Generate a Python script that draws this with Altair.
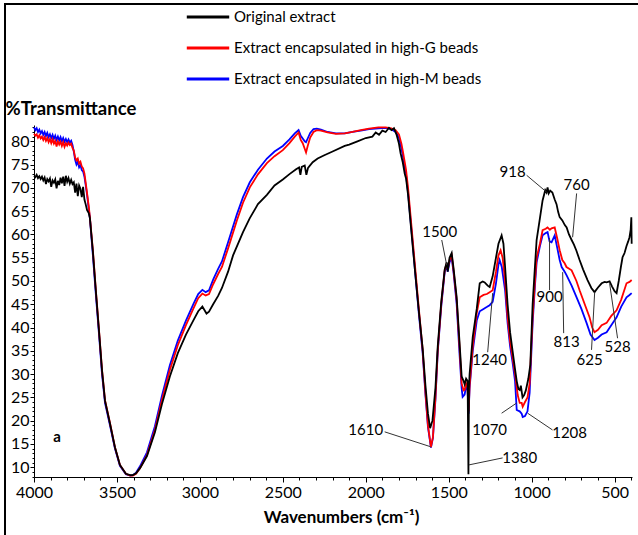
import altair as alt
import pandas as pd

FONT = "Lato"

series_names = ["Original extract",
                "Extract encapsulated in high-G beads",
                "Extract encapsulated in high-M beads"]
series_colors = ["#000000", "#ff0000", "#0000ff"]

black_points = [
    (4000, 72.6), (3992, 72.3), (3984, 72.8), (3976, 72.1), (3968, 72.5), (3960, 71.9), (3952, 72.4),
    (3944, 71.6), (3936, 72.2), (3928, 70.8), (3920, 71.9), (3912, 71.4), (3904, 72.0), (3896, 70.2),
    (3888, 71.6), (3880, 71.1), (3872, 71.8), (3864, 69.9), (3856, 71.5), (3848, 70.6), (3840, 72.2),
    (3832, 71.0), (3824, 72.4), (3816, 70.4), (3808, 72.6), (3800, 71.3), (3792, 72.1), (3784, 70.9),
    (3776, 71.7), (3768, 70.8), (3760, 71.2), (3752, 69.0), (3744, 70.9), (3736, 68.2), (3728, 70.5),
    (3720, 69.8), (3712, 68.0), (3704, 70.2), (3696, 67.5), (3688, 66.4), (3680, 65.2), (3670, 64.6),
    (3663, 63.5), (3645, 56.3), (3627, 47.8), (3608, 39.2), (3590, 30.8), (3572, 24.3), (3542, 19.4),
    (3512, 14.3), (3482, 10.5), (3446, 8.6), (3420, 8.3), (3404, 8.3), (3385, 8.7), (3361, 9.8),
    (3319, 12.4), (3271, 17.5), (3229, 23.5), (3181, 29.5), (3133, 34.5), (3084, 38.5), (3040, 41.5),
    (3010, 43.5), (2985, 44.5), (2960, 43.0), (2945, 43.4), (2920, 45.0), (2890, 46.8), (2867, 48.5),
    (2830, 52.0), (2800, 55.5), (2740, 60.5), (2699, 63.5), (2650, 66.5), (2596, 68.5), (2550, 70.5),
    (2500, 71.8), (2458, 73.0), (2420, 74.0), (2402, 74.4), (2394, 72.8), (2386, 74.5), (2368, 74.8),
    (2358, 72.8), (2348, 74.3), (2320, 75.5), (2290, 76.3), (2250, 77.0), (2200, 77.8), (2127, 79.0),
    (2100, 79.3), (2050, 80.0), (2000, 80.7), (1960, 81.0), (1940, 81.9), (1920, 81.4), (1900, 82.3),
    (1880, 82.0), (1860, 82.9), (1845, 82.4), (1830, 82.8), (1815, 81.5), (1800, 79.5), (1790, 77.4),
    (1777, 75.5), (1765, 73.0), (1757, 72.0), (1745, 68.5), (1735, 64.5), (1717, 57.5), (1700, 51.0),
    (1680, 43.5), (1657, 35.5), (1640, 27.5), (1625, 21.5), (1612, 18.4), (1598, 20.0), (1580, 27.0),
    (1566, 36.0), (1545, 45.5), (1524, 52.5), (1512, 54.0), (1506, 52.0), (1495, 55.0), (1482, 56.0),
    (1470, 52.5), (1452, 46.5), (1435, 37.0), (1422, 29.5), (1410, 28.5), (1404, 27.8), (1395, 29.0),
    (1386, 28.5), (1381, 8.5), (1378, 27.0), (1374, 30.0), (1355, 38.0), (1331, 44.0), (1313, 49.5),
    (1295, 49.9), (1283, 49.7), (1265, 49.0), (1253, 48.7), (1235, 51.0), (1215, 55.0), (1200, 58.0),
    (1181, 59.8), (1170, 58.0), (1160, 53.0), (1145, 45.0), (1130, 39.0), (1115, 35.0), (1100, 31.0),
    (1090, 28.5), (1080, 26.8), (1072, 26.6), (1065, 27.5), (1055, 25.0), (1045, 25.5), (1035, 26.5),
    (1020, 29.0), (1008, 32.0), (994, 45.0), (982, 52.0), (970, 58.8), (950, 63.5), (934, 67.3),
    (918, 69.5), (910, 69.0), (904, 70.1), (897, 68.8), (888, 69.4), (875, 69.0), (861, 67.5),
    (850, 66.5), (840, 64.8), (831, 63.7), (815, 63.0), (800, 62.0), (789, 61.5), (775, 60.0),
    (759, 58.8), (745, 57.8), (730, 56.5), (711, 54.5), (690, 52.5), (663, 50.2), (640, 48.5),
    (621, 47.6), (600, 48.6), (578, 49.5), (560, 49.8), (548, 49.7), (530, 49.9), (515, 48.8),
    (500, 47.8), (488, 47.4), (475, 50.0), (462, 53.0), (452, 55.1), (440, 56.0), (428, 57.5),
    (418, 58.5), (410, 59.4), (403, 61.0), (399, 63.7), (397, 58.0),
]

red_points = [
    (4000, 81.6), (3992, 81.2), (3984, 81.5), (3976, 80.8), (3968, 81.3), (3960, 80.6), (3952, 81.0),
    (3944, 80.3), (3936, 80.9), (3928, 80.1), (3920, 80.7), (3912, 79.8), (3904, 80.5), (3896, 79.6),
    (3888, 80.4), (3880, 79.5), (3872, 80.1), (3864, 78.9), (3856, 80.0), (3848, 79.3), (3840, 79.9),
    (3832, 79.0), (3824, 79.8), (3816, 78.8), (3808, 79.6), (3800, 79.1), (3792, 79.7), (3784, 79.2),
    (3776, 79.5), (3768, 78.6), (3760, 78.0), (3752, 76.5), (3744, 75.9), (3736, 76.3), (3728, 75.2),
    (3720, 75.6), (3712, 74.6), (3704, 74.2), (3696, 73.1), (3688, 71.0), (3680, 68.8), (3670, 66.0),
    (3663, 63.7), (3645, 56.6), (3627, 48.0), (3608, 39.4), (3590, 30.9), (3572, 24.4), (3542, 19.5),
    (3512, 14.3), (3482, 10.5), (3446, 8.6), (3420, 8.2), (3404, 8.2), (3385, 8.6), (3361, 9.8),
    (3319, 12.6), (3271, 18.0), (3229, 24.4), (3181, 30.9), (3133, 36.2), (3084, 40.5), (3040, 44.0),
    (3010, 46.3), (2985, 47.3), (2965, 46.9), (2945, 47.2), (2920, 49.3), (2890, 51.5), (2867, 53.0),
    (2830, 57.0), (2777, 63.0), (2740, 66.8), (2699, 70.1), (2650, 72.9), (2596, 75.3), (2550, 76.8),
    (2500, 78.1), (2460, 79.6), (2428, 81.0), (2405, 81.9), (2392, 80.3), (2380, 79.6), (2368, 78.4),
    (2360, 77.6), (2350, 79.0), (2335, 80.8), (2315, 82.0), (2295, 82.4), (2270, 82.3), (2230, 81.9),
    (2180, 81.6), (2127, 81.7), (2080, 82.0), (2030, 82.4), (1980, 82.7), (1924, 83.0), (1880, 83.0),
    (1846, 82.8), (1820, 82.4), (1800, 81.5), (1785, 79.5), (1777, 78.0), (1765, 75.5), (1757, 73.8),
    (1745, 70.0), (1735, 66.0), (1717, 58.8), (1700, 52.0), (1680, 44.0), (1657, 35.2), (1640, 26.0),
    (1625, 19.0), (1607, 14.3), (1595, 16.5), (1580, 25.0), (1566, 35.2), (1545, 45.0), (1524, 52.3),
    (1512, 53.8), (1506, 52.5), (1495, 54.5), (1482, 55.5), (1470, 52.0), (1452, 45.9), (1435, 36.0),
    (1422, 28.0), (1410, 26.5), (1404, 26.6), (1395, 28.0), (1386, 27.0), (1380, 22.0), (1374, 27.5),
    (1355, 36.0), (1331, 43.1), (1313, 46.5), (1290, 47.0), (1270, 47.2), (1253, 47.6), (1235, 48.0),
    (1215, 52.0), (1200, 55.5), (1187, 56.6), (1175, 55.0), (1160, 50.0), (1145, 42.2), (1130, 37.0),
    (1115, 33.6), (1100, 30.0), (1084, 25.5), (1072, 23.8), (1060, 23.8), (1054, 23.0), (1040, 24.0),
    (1025, 25.0), (1012, 28.0), (994, 42.2), (980, 50.0), (970, 55.0), (950, 58.0), (934, 60.9),
    (915, 61.2), (904, 61.5), (890, 61.0), (880, 61.3), (861, 61.5), (845, 59.0), (831, 56.6),
    (815, 54.5), (801, 53.8), (790, 53.0), (759, 52.3), (730, 50.0), (711, 48.0), (680, 45.0),
    (651, 42.2), (635, 40.0), (621, 39.0), (600, 39.5), (578, 40.5), (548, 41.0), (520, 42.5),
    (488, 43.7), (460, 46.0), (428, 49.5), (410, 49.8), (397, 50.2),
]

blue_points = [
    (4000, 83.0), (3992, 82.4), (3984, 82.8), (3976, 82.0), (3968, 82.5), (3960, 81.7), (3952, 82.2),
    (3944, 81.4), (3936, 82.0), (3928, 81.1), (3920, 81.8), (3912, 80.9), (3904, 81.5), (3896, 80.7),
    (3888, 81.4), (3880, 80.5), (3872, 81.2), (3864, 80.3), (3856, 81.0), (3848, 80.2), (3840, 80.9),
    (3832, 80.0), (3824, 80.7), (3816, 79.9), (3808, 80.5), (3800, 79.8), (3792, 80.4), (3784, 79.7),
    (3776, 80.1), (3768, 79.2), (3760, 77.8), (3752, 76.0), (3744, 75.0), (3736, 75.6), (3728, 74.4),
    (3720, 74.9), (3712, 73.8), (3704, 73.5), (3696, 72.4), (3688, 70.5), (3680, 68.5), (3670, 65.5),
    (3663, 63.5), (3645, 55.5), (3627, 47.0), (3608, 38.5), (3590, 30.0), (3572, 23.8), (3542, 19.0),
    (3512, 14.0), (3482, 10.3), (3446, 8.5), (3420, 8.2), (3404, 8.3), (3385, 8.8), (3361, 10.2),
    (3319, 13.2), (3271, 18.8), (3229, 25.3), (3181, 31.9), (3133, 37.2), (3084, 41.5), (3040, 45.0),
    (3010, 47.2), (2985, 48.1), (2965, 47.6), (2945, 48.0), (2920, 50.3), (2890, 52.6), (2867, 54.2),
    (2830, 58.3), (2777, 64.3), (2740, 68.0), (2699, 71.2), (2650, 73.9), (2596, 76.3), (2550, 77.8),
    (2500, 79.0), (2460, 80.4), (2428, 81.7), (2405, 82.4), (2392, 81.2), (2380, 80.6), (2368, 80.0),
    (2360, 79.8), (2350, 80.6), (2335, 81.8), (2315, 82.6), (2295, 82.7), (2270, 82.5), (2230, 82.0),
    (2180, 81.7), (2127, 81.7), (2080, 82.0), (2030, 82.3), (1980, 82.6), (1924, 82.8), (1880, 82.9),
    (1846, 82.6), (1820, 82.0), (1800, 80.8), (1785, 78.5), (1777, 77.0), (1765, 74.5), (1757, 72.8),
    (1745, 69.0), (1735, 65.0), (1717, 58.0), (1700, 51.0), (1680, 43.0), (1657, 34.5), (1640, 25.5),
    (1625, 18.6), (1607, 14.2), (1595, 16.3), (1580, 24.5), (1566, 34.8), (1545, 44.5), (1524, 52.0),
    (1512, 53.5), (1506, 52.0), (1495, 54.0), (1482, 55.0), (1470, 51.5), (1452, 45.0), (1435, 34.5),
    (1422, 27.0), (1416, 25.1), (1404, 25.6), (1395, 27.5), (1386, 26.5), (1380, 21.5), (1374, 27.0),
    (1355, 35.0), (1331, 41.5), (1313, 43.5), (1290, 44.0), (1271, 44.4), (1253, 44.8), (1235, 45.5),
    (1215, 49.5), (1200, 53.5), (1193, 54.5), (1180, 53.0), (1160, 48.0), (1145, 41.0), (1130, 36.0),
    (1115, 32.5), (1100, 28.5), (1090, 22.3), (1072, 22.0), (1060, 21.5), (1054, 20.8), (1040, 21.0),
    (1025, 22.0), (1012, 26.0), (994, 41.0), (980, 49.0), (970, 54.0), (950, 57.5), (934, 59.8),
    (915, 60.3), (904, 60.5), (892, 58.5), (880, 58.3), (861, 59.8), (845, 57.0), (831, 54.5),
    (819, 53.0), (801, 52.0), (789, 51.2), (759, 49.0), (729, 46.5), (700, 44.0), (669, 41.0),
    (645, 38.5), (621, 37.3), (600, 37.8), (578, 38.5), (548, 39.0), (520, 40.5), (488, 42.2),
    (460, 44.5), (428, 46.5), (410, 47.0), (397, 47.4),
]

# peak annotations: label, text position, leader line start/end
ann_labels = ["918", "760", "1500", "900", "1240", "813", "625", "528", "1610", "1070", "1208", "1380"]
ann_text_wn = [1115, 729, 1554, 892, 1253, 789, 651, 482, 2000, 1253, 771, 1072]
ann_text_t = [73.3, 70.6, 60.5, 46.5, 33.0, 36.9, 33.0, 35.8, 18.0, 18.0, 17.3, 12.0]
ann_line_wn1 = [1030, 729, 1542, 892, 1265, 807, 639, 482, 1886, 1181, 874, 1175]
ann_line_t1 = [72.7, 68.8, 58.8, 48.0, 34.7, 38.8, 35.2, 37.7, 17.6, 21.6, 18.0, 12.0]
ann_line_wn2 = [910, 753, 1512, 892, 1235, 813, 620, 530, 1609, 1090, 1024, 1378]
ann_line_t2 = [69.1, 59.4, 53.4, 59.2, 47.4, 51.9, 47.6, 49.5, 14.4, 23.8, 21.6, 10.5]

panel_label = "a"
panel_wn = [3861]
panel_t = [16.5]

x_domain = [4000, 395]
y_domain = [7.9, 83.5]
x_ticks = list(range(4000, 399, -100))
y_ticks = list(range(8, 84))

frames = []
for name, pts in zip(series_names, [black_points, red_points, blue_points]):
    frames.append(pd.DataFrame({"wn": [p[0] for p in pts], "t": [p[1] for p in pts], "series": name}))
spectra = pd.concat(frames, ignore_index=True)

ann = pd.DataFrame({"label": ann_labels, "wn": ann_text_wn, "t": ann_text_t,
                    "wn1": ann_line_wn1, "t1": ann_line_t1, "wn2": ann_line_wn2, "t2": ann_line_t2})
panel = pd.DataFrame({"label": [panel_label], "wn": panel_wn, "t": panel_t})

x_scale = alt.Scale(domain=x_domain, nice=False, zero=False)
y_scale = alt.Scale(domain=y_domain, nice=False, zero=False)

x_axis = alt.Axis(
    values=x_ticks,
    labelExpr="datum.value % 500 === 0 ? format(datum.value, 'd') : ''",
    labelOverlap=False, labelFlush=False,
    tickSize={"condition": {"test": "datum.value % 500 === 0", "value": 5}, "value": 3},
    title="Wavenumbers (cm⁻¹)", titleFont=FONT, titleFontSize=17, titleFontWeight="bold",
    titleColor="black", titleX=307, titleY=40, titleAlign="center", titleBaseline="middle",
    labelFont=FONT, labelFontSize=16, labelColor="black", labelPadding=2,
    tickColor="black", domainColor="black", grid=False,
)
y_axis = alt.Axis(
    values=y_ticks,
    labelExpr="datum.value % 5 === 0 ? format(datum.value, 'd') : ''",
    labelOverlap=False, labelFlush=False,
    tickSize={"condition": {"test": "datum.value % 5 === 0", "value": 4}, "value": 2},
    title="%Transmittance", titleFont=FONT, titleFontSize=18.5, titleFontWeight="bold",
    titleColor="black", titleAngle=0, titleAlign="left", titleBaseline="middle",
    titleX=-29, titleY=-17,
    labelFont=FONT, labelFontSize=16, labelColor="black", labelPadding=1,
    tickColor="black", domainColor="black", grid=False,
)

def X(field):
    return alt.X(field, scale=x_scale, axis=x_axis)

def Y(field):
    return alt.Y(field, scale=y_scale, axis=y_axis)

color = alt.Color(
    "series:N",
    scale=alt.Scale(domain=series_names, range=series_colors),
    legend=alt.Legend(
        orient="none", legendX=151, legendY=-131, title=None, direction="vertical",
        symbolType="stroke", symbolSize=1800, symbolStrokeWidth=3,
        labelFont=FONT, labelFontSize=15, labelColor="black", labelOffset=3,
        labelLimit=0, rowPadding=0,
    ),
)

layers = []
for name in reversed(series_names):
    layers.append(
        alt.Chart(spectra).transform_filter(alt.datum.series == name)
        .mark_line(strokeWidth=1.8)
        .encode(x=X("wn:Q"), y=Y("t:Q"),
                color=color, order=alt.Order("wn:Q", sort="descending"))
    )

leaders = alt.Chart(ann).mark_rule(color="#333333", strokeWidth=1).encode(
    x=X("wn1:Q"), y=Y("t1:Q"), x2="wn2:Q", y2="t2:Q")
labels = alt.Chart(ann).mark_text(font=FONT, fontSize=15, color="black", align="center",
                                  baseline="middle").encode(x=X("wn:Q"), y=Y("t:Q"), text="label:N")
panel_text = alt.Chart(panel).mark_text(font=FONT, fontSize=15, fontWeight="bold", color="black",
                                        align="center", baseline="middle").encode(
    x=X("wn:Q"), y=Y("t:Q"), text="label:N")

frame_df = pd.DataFrame({"k": [0]})
frame_left = alt.Chart(frame_df).mark_rule(color="black", strokeWidth=2).encode(
    x=alt.value(-29), y=alt.value(-121), y2=alt.value(420))
frame_top = alt.Chart(frame_df).mark_rule(color="black", strokeWidth=2).encode(
    x=alt.value(-30), x2=alt.value(610), y=alt.value(-121))

chart = alt.layer(*layers, leaders, labels, panel_text, frame_left, frame_top).properties(
    width=598, height=352,
    padding={"left": 34, "top": 125, "right": 6, "bottom": 58},
    autosize=alt.AutoSizeParams(type="none"),
    background="white",
).configure_view(stroke=None)

chart.save("out.html", embed_options={"renderer": "svg", "actions": False})
